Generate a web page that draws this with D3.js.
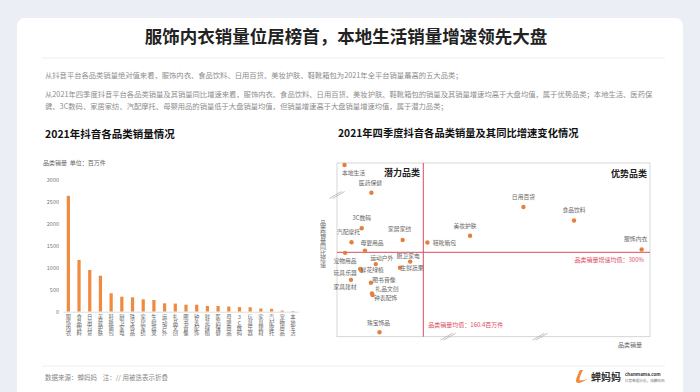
<!DOCTYPE html>
<html>
<head>
<meta charset="utf-8">
<script src="https://cdn.jsdelivr.net/npm/d3@7"></script>
<style>
  html, body { margin: 0; padding: 0; }
  body { width: 700px; height: 392px; overflow: hidden; background: #eceef5; }
  svg text { font-family: "Noto Sans CJK SC", "Noto Sans", sans-serif; }
  .vert { writing-mode: vertical-rl; text-orientation: upright; }
</style>
</head>
<body>
<svg id="chart" width="700" height="392"></svg>
<script>
// bar chart data: 2021 sales per category (million pieces)
const barCategories = ["服饰内衣", "食品饮料", "日用百货", "美妆护肤", "鞋靴箱包", "厨卫家电", "珠宝饰品", "家居家纺",
  "生鲜蔬果", "运动户外", "礼品文创", "图书音像", "钟表配饰", "鲜花绿植", "医药保健", "母婴用品",
  "3C数码", "玩具乐器", "家具建材", "汽配摩托", "宠物用品", "本地生活"];
const barValues = [2640, 1180, 950, 820, 420, 342, 328, 282, 266, 191, 185, 160, 160, 130, 130, 118, 105, 100, 72, 65, 25, 15];
const barTicks = [0, 500, 1000, 1500, 2000, 2500, 3000];

// scatter data: Q4 sales (million pieces) vs growth (%)
const scatterNames = ["服饰内衣", "食品饮料", "日用百货", "美妆护肤", "鞋靴箱包", "本地生活", "医药保健", "3C数码",
  "家居家纺", "汽配摩托", "母婴用品", "宠物用品", "运动户外", "厨卫家电", "鲜花绿植", "玩具乐器",
  "生鲜蔬果", "家具建材", "图书音像", "礼品文创", "钟表配饰", "珠宝饰品"];
const scatterSales = [1143, 682, 405, 260, 167, 14, 64, 46, 122, 27, 52, 15, 72, 136, 45, 43, 117, 26, 63, 65, 66, 79];
const scatterGrowth = [310, 411, 458, 358, 334, 1906, 608, 384, 343, 335, 306, 298, 258, 267, 235, 241, 245, 202, 192, 154, 148, 16];
const salesMean = 160.4;
const growthMean = 300;

// where each scatter label sits relative to its dot
const labelOffsets = [[-6, -10], [0, -10], [0, -10], [-5, -10], [17, 0], [9, 8], [-1, -10], [0, -10],
  [-3, -11], [-3, -10], [7, -8], [0, 8], [6, -6], [-2, -6], [11, -1], [-15, 4],
  [12, 0], [-6, 7], [13, -3], [15, -4], [13, 3], [-1, -9]];

const orange = "#ef8a3e";
const red = "#dc4b5c";

const svg = d3.select("#chart");

// white card
svg.append("rect")
  .attr("x", 17).attr("y", 18)
  .attr("width", 666).attr("height", 390)
  .attr("rx", 8)
  .attr("fill", "#fff");

// page title
svg.append("text")
  .attr("x", 346).attr("y", 43)
  .attr("text-anchor", "middle")
  .style("font-size", "17.5px")
  .style("font-weight", "bold")
  .attr("fill", "#222")
  .text("服饰内衣销量位居榜首，本地生活销量增速领先大盘");

svg.append("line")
  .attr("x1", 42).attr("x2", 665)
  .attr("y1", 58).attr("y2", 58)
  .attr("stroke", "#eee");

const paragraphs = [
  "从抖音平台各品类销量绝对值来看，服饰内衣、食品饮料、日用百货、美妆护肤、鞋靴箱包为2021年全平台销量最高的五大品类；",
  "从2021年四季度抖音平台各品类销量及其销量同比增速来看，服饰内衣、食品饮料、日用百货、美妆护肤、鞋靴箱包的销量及其销量增速均高于大盘均值，属于优势品类；本地生活、医药保",
  "健、3C数码、家居家纺、汽配摩托、母婴用品的销量低于大盘销量均值，但销量增速高于大盘销量增速均值，属于潜力品类；"
];
const paraY = [77.5, 96.5, 109];
paragraphs.forEach((p, i) => {
  svg.append("text")
    .attr("x", 45).attr("y", paraY[i])
    .style("font-size", "7.3px")
    .attr("fill", "#8c8c8c")
    .text(p);
});

// ---------- left: bar chart ----------
svg.append("text")
  .attr("x", 45).attr("y", 138)
  .style("font-size", "10.5px")
  .style("font-weight", "bold")
  .attr("fill", "#111")
  .text("2021年抖音各品类销量情况");

svg.append("text")
  .attr("x", 43).attr("y", 165)
  .style("font-size", "6px")
  .attr("fill", "#666")
  .text("品类销量\u00a0\u00a0单位：百万件");

const x = d3.scaleBand()
  .domain(barCategories)
  .range([63, 298.3])
  .paddingInner(0.7)
  .paddingOuter(0.35);

const y = d3.scaleLinear()
  .domain([0, 3000])
  .range([311.7, 180]);

const yAxis = svg.append("g")
  .attr("transform", "translate(61,0)")
  .call(d3.axisLeft(y).tickValues(barTicks).tickFormat(d3.format("d")).tickSize(0).tickPadding(2));
yAxis.select(".domain").remove();
yAxis.selectAll("text")
  .style("font-size", "5.5px")
  .attr("fill", "#777");

svg.append("g")
  .selectAll("rect")
  .data(barValues)
  .enter()
  .append("rect")
  .attr("x", (d, i) => x(barCategories[i]))
  .attr("y", d => y(d))
  .attr("width", x.bandwidth())
  .attr("height", d => y(0) - y(d))
  .attr("fill", orange);

// vertical stacked category labels
const xAxis = svg.append("g")
  .attr("transform", `translate(0,${y(0)})`)
  .call(d3.axisBottom(x).tickSize(0).tickPadding(0));
xAxis.select(".domain").attr("stroke", "#ddd");
xAxis.selectAll("text")
  .attr("class", "vert")
  .attr("x", 0)
  .attr("y", 3)
  .attr("dy", 0)
  .attr("text-anchor", "start")
  .style("font-size", "5.3px")
  .attr("fill", "#666");

// ---------- right: scatter ----------
svg.append("text")
  .attr("x", 338).attr("y", 137)
  .style("font-size", "10.3px")
  .style("font-weight", "bold")
  .attr("fill", "#111")
  .text("2021年四季度抖音各品类销量及其同比增速变化情况");

// piecewise scales, the axes are broken ("//")
const sx = d3.scaleLinear()
  .domain([0, salesMean, 200, 450, 1200])
  .range([337, 423.3, 448, 540, 650]);
const sy = d3.scaleLinear()
  .domain([0, growthMean, 500, 2000])
  .range([336.7, 252.3, 195, 163]);

svg.append("rect")
  .attr("x", sx(0)).attr("y", sy(2000))
  .attr("width", sx(1200) - sx(0))
  .attr("height", sy(0) - sy(2000))
  .attr("fill", "none")
  .attr("stroke", "#ccc")
  .attr("stroke-width", 0.8);

// break marks
const breaks = [[sx(0), sy(500)], [sx(200), sy(0)], [sx(450), sy(0)]];
breaks.forEach(b => {
  [-1.6, 1.6].forEach(o => {
    svg.append("line")
      .attr("x1", b[0] - 6 + o).attr("y1", b[1] + 3.5)
      .attr("x2", b[0] + 6 + o).attr("y2", b[1] - 3.5)
      .attr("stroke", "#999")
      .attr("stroke-width", 0.6);
  });
});

// mean lines
svg.append("line")
  .attr("x1", sx(salesMean)).attr("x2", sx(salesMean))
  .attr("y1", sy(2000)).attr("y2", sy(0))
  .attr("stroke", red).attr("stroke-width", 1);
svg.append("line")
  .attr("x1", sx(0)).attr("x2", sx(1200))
  .attr("y1", sy(growthMean)).attr("y2", sy(growthMean))
  .attr("stroke", red).attr("stroke-width", 1);

svg.append("text")
  .attr("x", sx(salesMean) + 5).attr("y", 327)
  .style("font-size", "6px")
  .attr("fill", red)
  .text("品类销量均值：" + salesMean + "百万件");
svg.append("text")
  .attr("x", 644).attr("y", 261.5)
  .attr("text-anchor", "end")
  .style("font-size", "6px")
  .attr("fill", red)
  .text("品类销量增速均值：" + growthMean + "%");

// quadrant names
svg.append("text")
  .attr("x", 420).attr("y", 176)
  .attr("text-anchor", "end")
  .style("font-size", "9px")
  .style("font-weight", "bold")
  .attr("fill", "#222")
  .text("潜力品类");
svg.append("text")
  .attr("x", 647).attr("y", 176.5)
  .attr("text-anchor", "end")
  .style("font-size", "9px")
  .style("font-weight", "bold")
  .attr("fill", "#222")
  .text("优势品类");

// axis titles
svg.append("text")
  .attr("class", "vert")
  .attr("x", 323).attr("y", 220)
  .style("font-size", "6px")
  .attr("fill", "#666")
  .text("品类销量同比增速");
svg.append("text")
  .attr("x", 630).attr("y", 347)
  .attr("text-anchor", "middle")
  .style("font-size", "6px")
  .attr("fill", "#666")
  .text("品类销量");

// dots + labels
svg.append("g")
  .selectAll("circle")
  .data(scatterNames)
  .enter()
  .append("circle")
  .attr("cx", (d, i) => sx(scatterSales[i]))
  .attr("cy", (d, i) => sy(scatterGrowth[i]))
  .attr("r", 2.2)
  .attr("fill", "#e3803c");

svg.append("g")
  .selectAll("text")
  .data(scatterNames)
  .enter()
  .append("text")
  .attr("x", (d, i) => sx(scatterSales[i]) + labelOffsets[i][0])
  .attr("y", (d, i) => sy(scatterGrowth[i]) + labelOffsets[i][1] + 2)
  .attr("text-anchor", "middle")
  .style("font-size", "5.8px")
  .attr("fill", "#666")
  .text(d => d);

// ---------- footer ----------
svg.append("line")
  .attr("x1", 42).attr("x2", 665)
  .attr("y1", 366).attr("y2", 366)
  .attr("stroke", "#eee");

svg.append("text")
  .attr("x", 45).attr("y", 380)
  .style("font-size", "6.5px")
  .attr("fill", "#888")
  .text("数据来源：蝉妈妈\u00a0\u00a0\u00a0\u00a0注：// 用被迭表示折叠");

// logo
const logo = svg.append("g").attr("transform", "translate(575,369)");
logo.append("path")
  .attr("d", "M5,1 C3,5 1,9 1,12 C1,14 3,14.5 6,13.5 L13,10 C9,11 5,12 4.5,11 C4.5,8 6.5,4 8,1 Z")
  .attr("fill", orange);
logo.append("text")
  .attr("x", 16).attr("y", 12)
  .style("font-size", "10px")
  .style("font-weight", "bold")
  .attr("fill", "#333")
  .text("蝉妈妈");
logo.append("text")
  .attr("x", 50).attr("y", 7)
  .style("font-size", "4.5px")
  .style("font-weight", "bold")
  .attr("fill", "#333")
  .text("chanmama.com");
logo.append("text")
  .attr("x", 50).attr("y", 12.5)
  .style("font-size", "3.6px")
  .attr("fill", "#777")
  .text("抖音数据分析，找蝉妈妈");
</script>
</body>
</html>
